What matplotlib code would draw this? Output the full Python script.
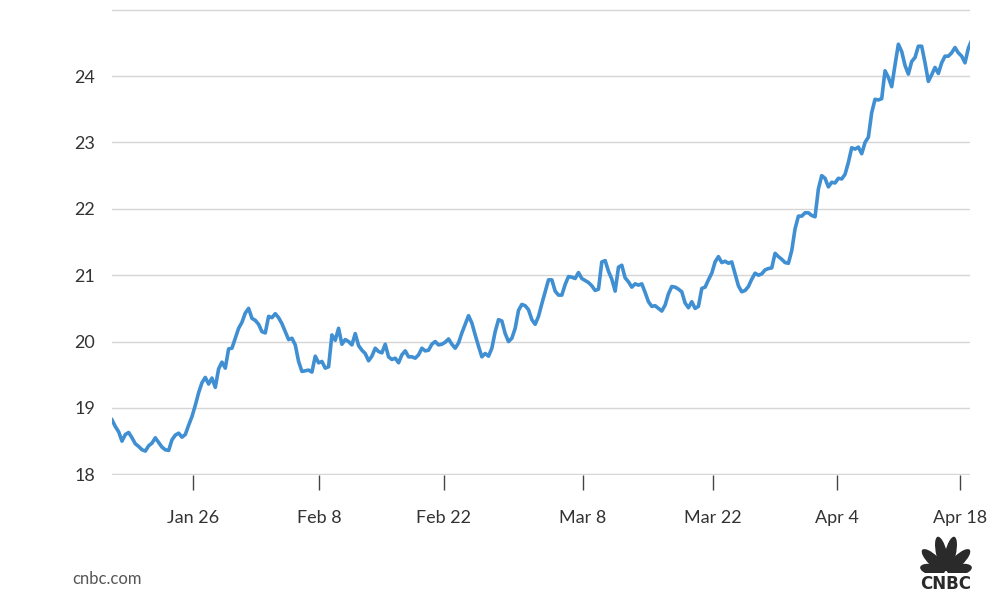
import numpy as np
import matplotlib as mpl
import matplotlib.pyplot as plt
from matplotlib.patches import Ellipse

mpl.rcParams['font.family'] = ['Lato', 'DejaVu Sans']

# price series, evenly spaced trading samples
price = [
    18.82, 18.72, 18.64, 18.50, 18.60, 18.63, 18.55, 18.46, 18.42, 18.37,
    18.35, 18.43, 18.47, 18.55, 18.48, 18.41, 18.37, 18.36, 18.52, 18.59,
    18.62, 18.56, 18.60, 18.74, 18.87, 19.04, 19.23, 19.38, 19.46, 19.36,
    19.45, 19.31, 19.59, 19.69, 19.60, 19.89, 19.90, 20.05, 20.20, 20.29,
    20.43, 20.50, 20.35, 20.32, 20.26, 20.15, 20.13, 20.38, 20.36, 20.42,
    20.36, 20.27, 20.15, 20.03, 20.05, 19.95, 19.70, 19.55, 19.56, 19.57,
    19.54, 19.78, 19.68, 19.70, 19.60, 19.62, 20.10, 20.02, 20.20, 19.96,
    20.03, 20.00, 19.95, 20.12, 19.94, 19.87, 19.82, 19.71, 19.78, 19.90,
    19.85, 19.83, 19.96, 19.77, 19.73, 19.75, 19.68, 19.80, 19.86, 19.77,
    19.77, 19.75, 19.80, 19.90, 19.86, 19.87, 19.96, 20.00, 19.95, 19.96,
    19.99, 20.04, 19.96, 19.90, 19.98, 20.13, 20.26, 20.39, 20.28, 20.10,
    19.93, 19.77, 19.82, 19.78, 19.90, 20.15, 20.33, 20.31, 20.12, 20.00,
    20.05, 20.20, 20.47, 20.56, 20.54, 20.48, 20.33, 20.26, 20.38, 20.57,
    20.75, 20.93, 20.93, 20.76, 20.70, 20.70, 20.86, 20.98, 20.97, 20.95,
    21.04, 20.95, 20.92, 20.89, 20.84, 20.77, 20.79, 21.20, 21.22, 21.06,
    20.94, 20.76, 21.12, 21.15, 20.96, 20.90, 20.82, 20.87, 20.85, 20.87,
    20.74, 20.60, 20.53, 20.54, 20.50, 20.46, 20.55, 20.72, 20.83, 20.82,
    20.79, 20.75, 20.58, 20.51, 20.60, 20.50, 20.53, 20.80, 20.82, 20.93,
    21.03, 21.20, 21.28, 21.19, 21.21, 21.18, 21.20, 21.02, 20.84, 20.75,
    20.77, 20.83, 20.94, 21.03, 21.00, 21.02, 21.08, 21.10, 21.11, 21.33,
    21.28, 21.24, 21.19, 21.18, 21.37, 21.70, 21.89, 21.89, 21.94, 21.94,
    21.90, 21.88, 22.30, 22.50, 22.46, 22.33, 22.40, 22.39, 22.46, 22.45,
    22.52, 22.70, 22.92, 22.90, 22.93, 22.83, 23.00, 23.08, 23.45, 23.65,
    23.64, 23.66, 24.08, 23.98, 23.84, 24.17, 24.48, 24.37, 24.16, 24.03,
    24.22, 24.28, 24.45, 24.45, 24.20, 23.92, 24.02, 24.13, 24.04, 24.20,
    24.30, 24.30, 24.35, 24.43, 24.35, 24.30, 24.20, 24.42, 24.54,
]
tick_pos = [24.4, 62.1, 99.6, 141.3, 180.3, 217.5, 254.4]
tick_labels = ['Jan 26', 'Feb 8', 'Feb 22', 'Mar 8', 'Mar 22', 'Apr 4', 'Apr 18']
y_ticks = [18, 19, 20, 21, 22, 23, 24, 25]
y_labels = ['18', '19', '20', '21', '22', '23', '24', '']

fig = plt.figure(figsize=(10, 6.03), dpi=100)
ax = fig.add_axes([0.112, 0.2123, 0.858, 0.7727])

x = np.arange(len(price))
ax.plot(x, price, color='#3f8fd2', lw=2.6, solid_joinstyle='round')

ax.set_xlim(0, 257.5)
ax.set_ylim(17.99, 25.01)
ax.set_yticks(y_ticks)
ax.set_yticklabels(y_labels)
ax.set_xticks(tick_pos)
ax.set_xticklabels(tick_labels)

ax.grid(axis='y', color='#d6d6d6', lw=1)
ax.set_axisbelow(True)
for s in ax.spines.values():
    s.set_visible(False)

ax.tick_params(axis='y', length=0, pad=12, labelsize=13, labelcolor='#333333')
ax.tick_params(axis='x', length=11, width=1, color='#444444', pad=14,
               labelsize=13, labelcolor='#333333')

fig.text(0.072, 0.04, 'cnbc.com', fontsize=12, color='#555555', ha='left', va='center')
fig.text(0.9455, 0.0315, 'CNBC', fontsize=12, fontweight='bold', color='#2a2a2a',
         family='DejaVu Sans', ha='center', va='center')

# peacock logo
logo = fig.add_axes([0.917, 0.0495, 0.058, 0.0615])
logo.set_xlim(-1.1, 1.1)
logo.set_ylim(-0.02, 1.4)
logo.set_aspect('equal')
logo.axis('off')
feathers = [(168, 0.95), (136, 1.2), (103, 1.35), (77, 1.35), (44, 1.2), (12, 0.95)]
for ang, ln in feathers:
    a = np.deg2rad(ang)
    r = ln / 2 + 0.06
    logo.add_patch(Ellipse((r * np.cos(a), r * np.sin(a)), ln, 0.42,
                           angle=ang, color='#2a2a2a', lw=0))

fig.savefig('out.png', dpi=100)
